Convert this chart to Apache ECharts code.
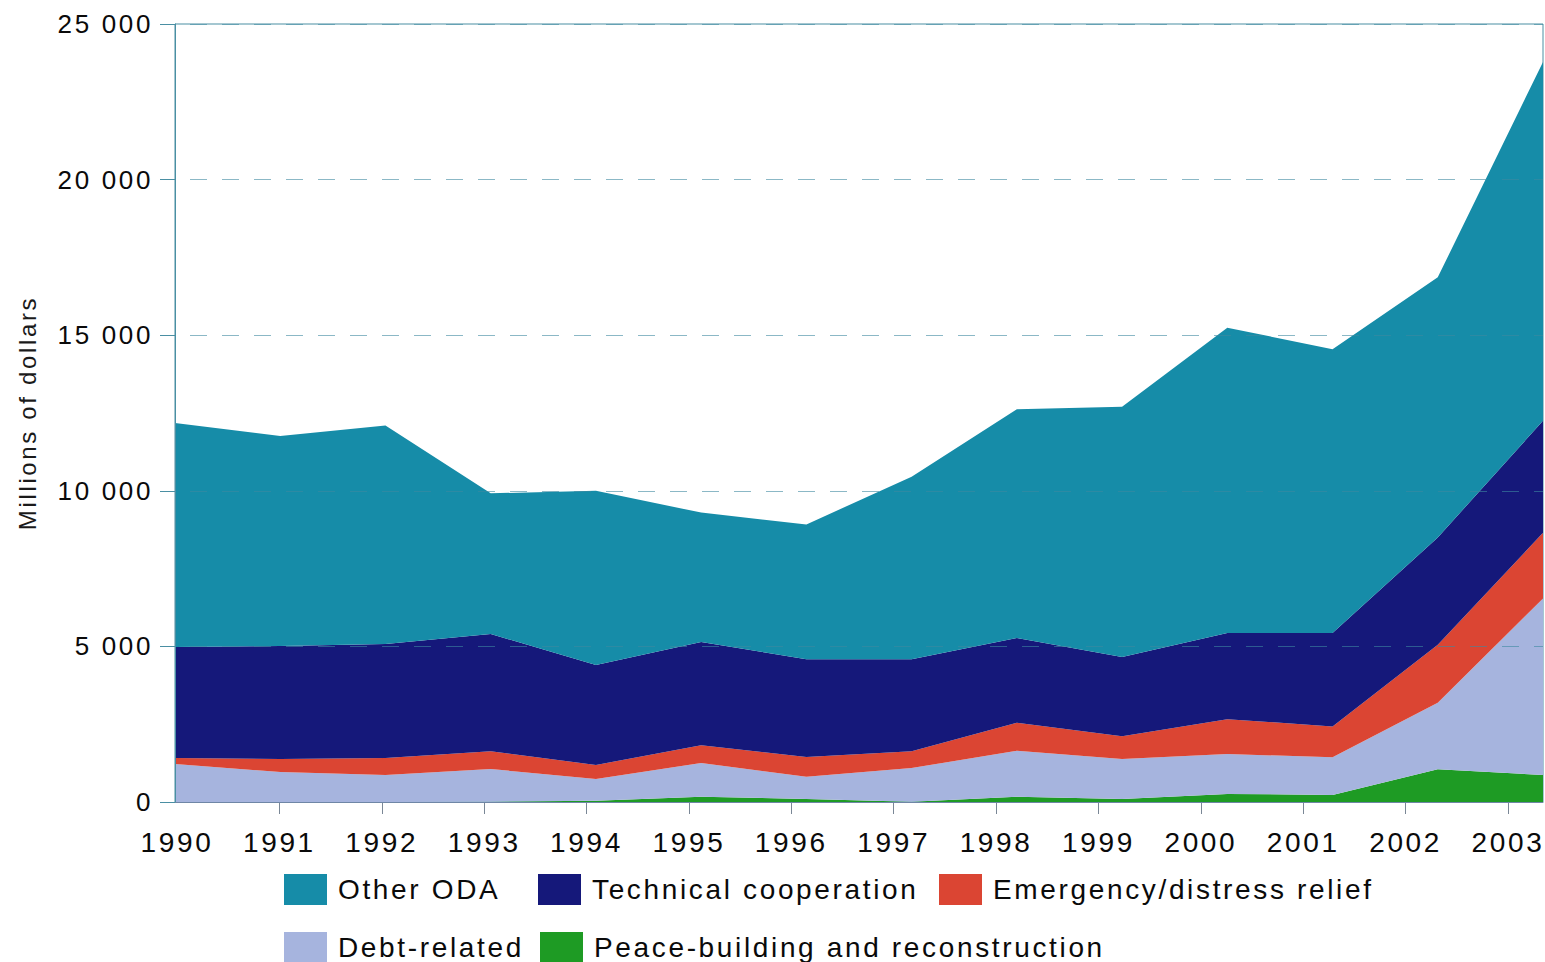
<!DOCTYPE html>
<html>
<head>
<meta charset="utf-8">
<script src="https://cdn.jsdelivr.net/npm/echarts@6/dist/echarts.min.js"></script>
<style>
html,body{margin:0;padding:0;background:#fff;}
#chart{width:1545px;height:962px;}
#chart text{letter-spacing:2.65px;}
</style>
</head>
<body>
<div id="chart"></div>
<script>
// Categories / tick labels
const years = ['1990','1991','1992','1993','1994','1995','1996','1997','1998','1999','2000','2001','2002','2003'];

// Series values (millions of dollars), stacked bottom to top
const peaceBuilding = [0, 0, 0, 10, 40, 170, 100, 10, 170, 100, 260, 225, 1050, 870];
const debtRelated   = [1220, 965, 870, 1050, 700, 1080, 710, 1080, 1480, 1280, 1280, 1215, 2140, 5670];
const emergency     = [190, 415, 540, 570, 450, 570, 640, 540, 900, 730, 1120, 990, 1860, 2110];
const technical     = [3570, 3630, 3670, 3770, 3210, 3320, 3140, 2960, 2720, 2550, 2770, 3000, 3450, 3600];
const otherODA      = [7200, 6750, 7020, 4520, 5600, 4160, 4330, 5860, 7350, 8040, 9810, 9120, 8360, 11530];

const FONT = "'Liberation Sans', Arial, sans-serif";
const colors = {
  other: '#168ca8',
  tech: '#15187a',
  emerg: '#db4533',
  debt: '#a6b4de',
  peace: '#1e9b24'
};

function area(name, data, color) {
  return {
    name: name,
    type: 'line',
    stack: 'total',
    xAxisIndex: 0,
    yAxisIndex: 0,
    data: data,
    symbol: 'none',
    showSymbol: false,
    lineStyle: { width: 0, color: color },
    itemStyle: { color: color },
    areaStyle: { color: color, opacity: 1 },
    emphasis: { disabled: true },
    z: 2
  };
}

function legend(name, left, top) {
  return {
    data: [name],
    left: left,
    top: top,
    orient: 'horizontal',
    icon: 'rect',
    itemWidth: 43,
    itemHeight: 31,
    padding: 0,
    selectedMode: false,
    itemStyle: { borderWidth: 0 },
    textStyle: { fontSize: 28, color: '#0a0a0a', fontFamily: FONT, padding: [0, 0, 0, 6] }
  };
}

const chart = echarts.init(document.getElementById('chart'), null, { renderer: 'svg' });
chart.setOption({
  animation: false,
  backgroundColor: '#ffffff',
  textStyle: { fontFamily: FONT },
  grid: [
    { left: 175, right: 2, top: 24, bottom: 160, show: true, borderColor: '#4a8fa3', borderWidth: 1, backgroundColor: 'transparent' },
    { left: 177, width: 1331, top: 24, bottom: 160 }
  ],
  xAxis: [
    {
      type: 'category', gridIndex: 0, data: years, boundaryGap: false,
      axisLabel: { show: false }, axisTick: { show: false },
      axisLine: { show: true, lineStyle: { color: '#6f86a6', width: 1 } },
      splitLine: { show: false }, z: 3
    },
    {
      type: 'category', gridIndex: 1, data: years, boundaryGap: false,
      axisLine: { show: false },
      axisTick: { show: true, length: 12, interval: function (i) { return i !== 0; }, lineStyle: { color: '#7a8796', width: 1 } },
      axisLabel: { interval: 0, fontSize: 28, color: '#0a0a0a', margin: 26, fontFamily: FONT },
      splitLine: { show: false }
    }
  ],
  yAxis: [
    {
      type: 'value', gridIndex: 0, min: 0, max: 25000, interval: 5000,
      name: 'Millions of dollars', nameLocation: 'middle', nameGap: 136, nameRotate: 90,
      nameTextStyle: { fontSize: 24, color: '#1a1a1a', fontFamily: FONT },
      axisLine: { show: true, lineStyle: { color: '#4a8fa3', width: 1 } },
      axisTick: { show: true, length: 15, lineStyle: { color: '#4a8fa3', width: 1 } },
      axisLabel: {
        fontSize: 26, color: '#0a0a0a', margin: 22, fontFamily: FONT,
        formatter: function (v) { return String(v).replace(/\B(?=(\d{3})+(?!\d))/g, ' '); }
      },
      splitLine: { show: true, lineStyle: { type: [17, 15], dashOffset: 17, color: 'rgba(62,136,160,0.6)', width: 1 } },
      z: 3
    },
    { type: 'value', gridIndex: 1, min: 0, max: 1, show: false }
  ],
  legend: [
    legend('Other ODA', 284, 874),
    legend('Technical cooperation', 538, 874),
    legend('Emergency/distress relief', 939, 874),
    legend('Debt-related', 284, 932),
    legend('Peace-building and reconstruction', 540, 932)
  ],
  series: [
    area('Peace-building and reconstruction', peaceBuilding, colors.peace),
    area('Debt-related', debtRelated, colors.debt),
    area('Emergency/distress relief', emergency, colors.emerg),
    area('Technical cooperation', technical, colors.tech),
    area('Other ODA', otherODA, colors.other)
  ]
});
</script>
</body>
</html>
